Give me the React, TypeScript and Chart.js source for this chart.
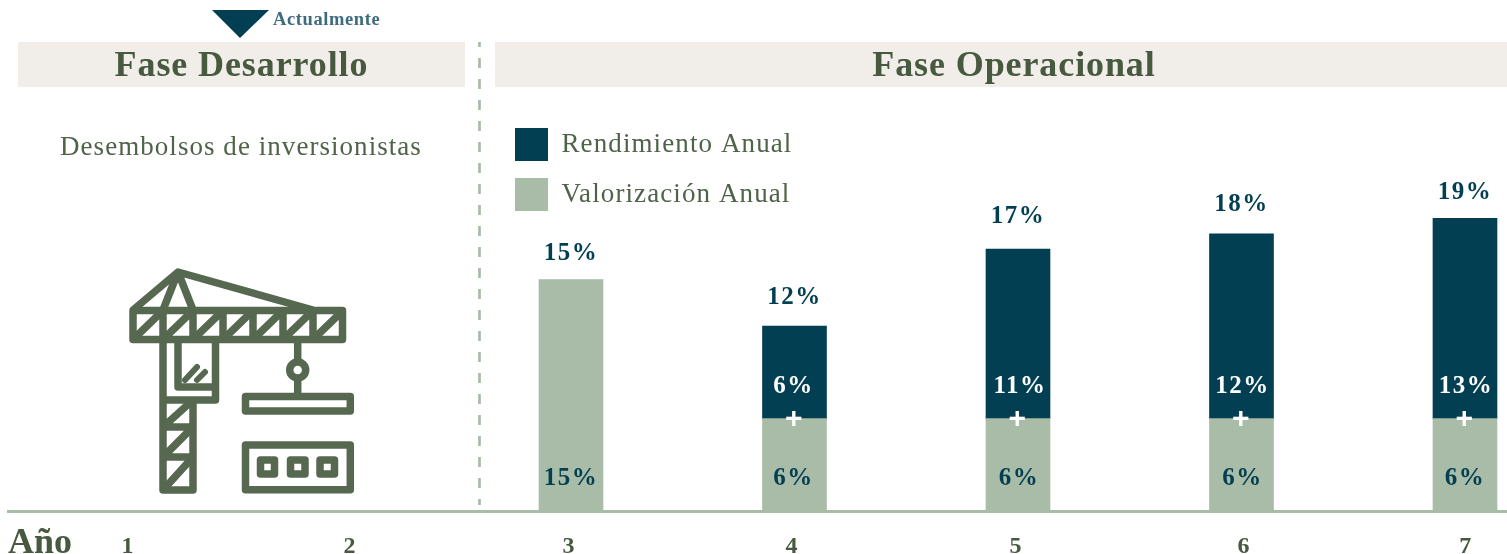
import React, { useEffect, useRef } from "react";
import { Chart, registerables } from "chart.js";

Chart.register(...registerables);

const yearLabels = ["1", "2", "3", "4", "5", "6", "7"];
const yearValues = [1, 2, 3, 4, 5, 6, 7];
const valorizacion = [null, null, 15, 6, 6, 6, 6];
const rendimiento = [null, null, 0, 6, 11, 12, 13];
const totals = [null, null, 15, 12, 17, 18, 19];

const DARK = "#023F52";
const SAGE = "#A8BCA8";
const TEXT = "#47593F";
const SERIF = "'Liberation Serif', serif";

const tickPositions = [1.018, 2.011, 2.991, 3.989, 4.991, 6.011, 7.004];
const totalGap = [0, 0, 26, 29, 33, 29, 26];
const lowerNudge = [0, 0, 0, -1, 1, 1, 0];
const upperNudge = [0, 0, 0, -1, 2, 1, 1];

const labelPlugin = {
  id: "barTexts",
  beforeLayout(chart: any) {
    chart.ctx.letterSpacing = "1.1px";
  },
  afterLayout(chart: any) {
    const l = chart.legend;
    if (!l) return;
    const w = l.width, h = l.height;
    l.left = 498; l.top = 111; l.right = 498 + w; l.bottom = 111 + h;
  },
  beforeDraw(chart: any) {
    chart.ctx.letterSpacing = "1.1px";
  },
  beforeDatasetsDraw(chart: any) {
    chart.ctx.letterSpacing = "0px";
  },
  afterDatasetsDraw(chart: any) {
    const { ctx, scales } = chart;
    const x = scales.x, y = scales.y;
    ctx.save();
    ctx.textAlign = "center";
    ctx.textBaseline = "middle";
    ctx.font = `bold 25px ${SERIF}`;
    ctx.letterSpacing = "1.5px";
    yearValues.forEach((yr, i) => {
      const total = totals[i];
      if (total == null) return;
      const px = x.getPixelForValue(yr);
      ctx.fillStyle = DARK;
      ctx.fillText(`${total}%`, px, y.getPixelForValue(total) - totalGap[i]);
      ctx.fillText(`${valorizacion[i]}%`, px + lowerNudge[i], y.getPixelForValue(2.1));
      if (rendimiento[i]) {
        ctx.fillStyle = "#FFFFFF";
        ctx.fillText(`${rendimiento[i]}%`, px + upperNudge[i], y.getPixelForValue(8.05));
        ctx.font = `bold 30px 'Liberation Sans', sans-serif`;
        ctx.fillText("+", px, y.getPixelForValue(valorizacion[i] as number) + 1);
        ctx.font = `bold 25px ${SERIF}`;
      }
    });
    ctx.restore();
  },
};

const abs = (s: React.CSSProperties): React.CSSProperties => ({ position: "absolute", fontFamily: SERIF, whiteSpace: "nowrap", ...s });

function Crane() {
  const cells = [0, 1, 2, 3, 4, 5, 6];
  return (
    <svg width={1507} height={554} style={{ position: "absolute", left: 0, top: 0 }}>
      <g fill="none" stroke="#56684F" strokeWidth={7.5} strokeLinejoin="round" strokeLinecap="butt">
        <path d="M133 310 L178 272 L313 310 M178 272 L163 310 M178 272 L193 310" />
        <rect x={133} y={310.5} width={209.5} height={29} />
        {cells.map((i) => (
          <path key={i} d={`M${133 + 30 * i} 339.5 L${133 + 30 * (i + 1)} 310.5 ${i < 6 ? `M${133 + 30 * (i + 1)} 310.5 V339.5` : ""}`} />
        ))}
        <path d="M163 340 V490 H193 V400 M163 400 H215.5 V340 M178 340 V387 H215.5" />
        <path d="M163 427 H193 M163 457 H193 M163 427 L193 400 M163 457 L193 427 M163 490 L193 457" />
        <path d="M185 380 L197 367 M197 380 L205 372" strokeWidth={6} strokeLinecap="round" />
        <path d="M297.7 340 V393" />
        <circle cx={297.7} cy={370} r={8} fill="#FFFFFF" />
        <rect x={245.5} y={396.5} width={104.8} height={14.5} />
        <rect x={245.5} y={445} width={104.8} height={44.7} />
        <rect x={260.5} y={460} width={14} height={14} />
        <rect x={290.5} y={460} width={14.5} height={14} />
        <rect x={320} y={460} width={14.5} height={14} />
      </g>
    </svg>
  );
}

export default function App() {
  const ref = useRef<HTMLCanvasElement>(null);
  useEffect(() => {
    const chart = new Chart(ref.current as HTMLCanvasElement, {
      type: "bar",
      data: {
        labels: yearLabels,
        datasets: [
          { label: "Valorización Anual", data: valorizacion, backgroundColor: SAGE, barThickness: 64 },
          { label: "Rendimiento Anual", data: rendimiento, backgroundColor: DARK, barThickness: 64 },
        ],
      } as any,
      options: {
        responsive: false,
        animation: false,
        layout: { padding: { left: 8, right: 0, top: 203, bottom: 1 } },
        plugins: {
          tooltip: { enabled: false },
          title: { display: false },
          legend: {
            position: "chartArea",
            align: "start",
            reverse: true,
            labels: {
              boxWidth: 33,
              boxHeight: 33,
              padding: 17,
              color: "#4F6349",
              font: { family: SERIF, size: 27 },
            },
          },
        },
        scales: {
          x: {
            type: "linear",
            stacked: true,
            min: 0.481,
            max: 7.188,
            offset: false,
            afterBuildTicks: (s: any) => {
              s.ticks = tickPositions.map((value) => ({ value }));
            },
            afterFit: (s: any) => {
              s.height = 42;
            },
            grid: { display: false, drawTicks: false },
            border: { color: SAGE, width: 3 },
            ticks: {
              autoSkip: false,
              maxRotation: 0,
              padding: 21,
              color: TEXT,
              font: { family: SERIF, size: 24, weight: "bold" },
              callback: (_v: any, i: number) => yearLabels[i],
            },
          },
          y: { display: false, stacked: true, min: 0, max: 20 },
        },
      } as any,
      plugins: [labelPlugin],
    });
    return () => chart.destroy();
  }, []);

  return (
    <div style={{ position: "absolute", left: 0, top: 0, width: 1507, height: 554, overflow: "hidden", background: "#FFFFFF" }}>
      <div style={abs({ left: 18, top: 42, width: 447, height: 45, background: "#F1EDE9" })} />
      <div style={abs({ left: 495, top: 42, width: 1012, height: 45, background: "#F1EDE9" })} />
      <canvas ref={ref} width={1507} height={554} style={{ position: "absolute", left: 0, top: 0, display: "block" }} />
      <svg width={1507} height={554} style={{ position: "absolute", left: 0, top: 0 }}>
        <path d="M212 10 H269 L240 38 Z" fill={DARK} />
        <line x1={479.5} y1={42} x2={479.5} y2={505} stroke={SAGE} strokeWidth={2.7} strokeDasharray="10 11" strokeDashoffset={5} />
      </svg>
      <Crane />
      <div style={abs({ left: 273, top: 6, fontSize: 18.5, lineHeight: "26px", fontWeight: 700, color: "#3F6B7F", letterSpacing: 0.6 })}>Actualmente</div>
      <div style={abs({ left: 18, top: 42, width: 447, textAlign: "center", fontSize: 36, lineHeight: "45px", fontWeight: 700, color: TEXT, letterSpacing: 0.9 })}>Fase Desarrollo</div>
      <div style={abs({ left: 495, top: 42, width: 1038, textAlign: "center", fontSize: 36, lineHeight: "45px", fontWeight: 700, color: TEXT, letterSpacing: 0.9 })}>Fase Operacional</div>
      <div style={abs({ left: 60, top: 129, fontSize: 27, lineHeight: "34px", color: "#4F6349", letterSpacing: 1.05 })}>Desembolsos de inversionistas</div>
      <div style={abs({ left: 8, top: 521, fontSize: 36, lineHeight: "40px", fontWeight: 700, color: TEXT })}>Año</div>
    </div>
  );
}
